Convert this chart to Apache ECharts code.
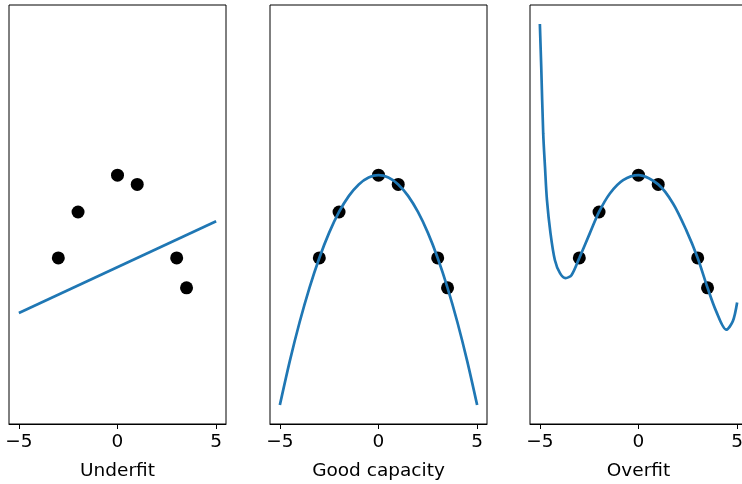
<!DOCTYPE html>
<html>
<head>
<meta charset="utf-8">
<script src="https://cdn.jsdelivr.net/npm/echarts@6/dist/echarts.min.js"></script>
<style>
  html, body { margin: 0; padding: 0; background: #fff; }
  #chart { width: 742px; height: 484px; }
</style>
</head>
<body>
<div id="chart"></div>
<script>
// Shared tick labels and panel titles
const xTicks = [-5, 0, 5];
const panelTitles = ['Underfit', 'Good capacity', 'Overfit'];

// Training points (same in every panel)
const pointX = [-3, -2, 0, 1, 3, 3.5];
const pointY = [-9, -4, 0, -1, -9, -12.25];

// Linear model
const underfitX = [-5, 5];
const underfitY = [-15, -5];

// Quadratic model
const goodX = [-5, -4.5, -4, -3.5, -3, -2.5, -2, -1.5, -1, -0.5, 0, 0.5, 1, 1.5, 2, 2.5, 3, 3.5, 4, 4.5, 5];
const goodY = [-25, -20.25, -16, -12.25, -9, -6.25, -4, -2.25, -1, -0.25, 0, -0.25, -1, -2.25, -4, -6.25, -9, -12.25, -16, -20.25, -25];

// High-degree model
const overX = [-5, -4.93, -4.83, -4.74, -4.64, -4.46, -4.24, -3.98, -3.7, -3.39, -3, -2.47, -2, -1.45, -0.78, 0, 1, 1.75, 2.42, 3, 3.5, 3.94, 4.45, 4.78, 5];
const overY = [16.45, 11.75, 4.52, 0.9, -2.71, -6.33, -9.22, -10.66, -11.2, -10.85, -9, -6.33, -4, -1.99, -0.54, 0, -1, -3.07, -5.97, -9, -12.25, -14.82, -16.81, -15.9, -13.85];

const curves = [
  [underfitX, underfitY],
  [goodX, goodY],
  [overX, overY]
];

const pair = (xs, ys) => xs.map((x, i) => [x, ys[i]]);
const fmt = v => (v < 0 ? '\u2212' + (-v) : String(v));
const FONT = 'DejaVu Sans';
const lefts = [9, 270, 530];

const grid = [], xAxis = [], yAxis = [], series = [];
lefts.forEach((left, i) => {
  grid.push({
    left: left, top: 5, width: 217, height: 419,
    outerBoundsMode: 'none', containLabel: false,
    show: true, borderColor: '#000', borderWidth: 1, backgroundColor: '#fff'
  });
  xAxis.push({
    type: 'value', gridIndex: i, min: -5.5, max: 5.5,
    name: panelTitles[i], nameLocation: 'middle', nameGap: 38,
    nameTextStyle: { fontFamily: FONT, fontSize: 18.5, color: '#000' },
    splitLine: { show: false },
    axisLine: { show: true, onZero: false, lineStyle: { color: '#000', width: 1 } },
    axisTick: { show: true, inside: false, length: 5, customValues: xTicks, lineStyle: { color: '#000', width: 1 } },
    axisLabel: { show: true, margin: 9, customValues: xTicks, formatter: fmt,
      fontFamily: FONT, fontSize: 18.5, color: '#000' }
  });
  yAxis.push({
    type: 'value', gridIndex: i, min: -27.07, max: 18.52,
    axisLine: { show: false }, axisTick: { show: false },
    axisLabel: { show: false }, splitLine: { show: false }
  });
  series.push({
    type: 'scatter', xAxisIndex: i, yAxisIndex: i,
    data: pair(pointX, pointY), symbolSize: 13,
    itemStyle: { color: '#000', opacity: 1 }, z: 2, silent: true
  });
  series.push({
    type: 'line', xAxisIndex: i, yAxisIndex: i,
    data: pair(curves[i][0], curves[i][1]),
    showSymbol: false, smooth: i === 0 ? false : 0.3,
    lineStyle: { color: '#1f77b4', width: 2.7 },
    z: 3, silent: true, clip: true
  });
});

const chart = echarts.init(document.getElementById('chart'), null, { renderer: 'canvas' });
chart.setOption({
  animation: false,
  backgroundColor: '#fff',
  grid: grid,
  xAxis: xAxis,
  yAxis: yAxis,
  series: series
});
</script>
</body>
</html>
